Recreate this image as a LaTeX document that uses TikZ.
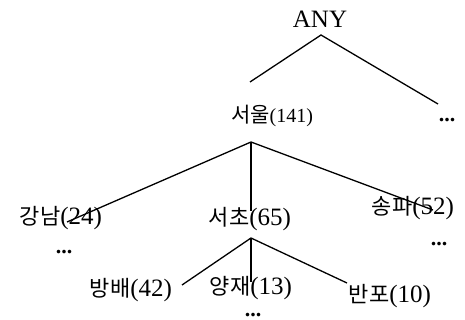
\documentclass[tikz,border=0pt]{standalone}
\usepackage{fontspec}
\setmainfont{Liberation Serif}
\newfontfamily\kr{Noto Sans CJK KR}
\begin{document}
\begin{tikzpicture}[x=1pt,y=-1pt,
  lbl/.style={inner sep=0pt,font=\fontsize{25}{27}\selectfont},
  dots/.style={inner sep=0pt,text height=4pt,text depth=0pt,font=\bfseries\fontsize{22}{24}\selectfont},
  edge/.style={draw=black,line width=1.3pt}]
\useasboundingbox (0,0) rectangle (465,320);
\node[lbl] (any) at (320,19) {ANY};
\node[lbl] (seoul) at (272,116) {{\kr\fontsize{21}{22}\selectfont 서울}{\fontsize{20}{22}\selectfont (141)}};
\node[dots] (dotsA) at (447,120) {...};
\node[lbl] (gangnam) at (61,218) {{\kr\fontsize{22}{24}\selectfont 강남}(24)};
\node[lbl] (seocho) at (250,219) {{\kr\fontsize{22}{24}\selectfont 서초}(65)};
\node[lbl] (songpa) at (413,208) {{\kr\fontsize{22}{24}\selectfont 송파}(52)};
\node[dots] (dotsB) at (64,251) {...};
\node[dots] (dotsC) at (439,243) {...};
\node[lbl] (bangbae) at (131,290) {{\kr\fontsize{22}{24}\selectfont 방배}(42)};
\node[lbl] (yangjae) at (251,288) {{\kr\fontsize{22}{24}\selectfont 양재}(13)};
\node[lbl] (banpo) at (390,296) {{\kr\fontsize{22}{24}\selectfont 반포}(10)};
\node[dots] (dotsD) at (253,314.5) {...};
\coordinate (anyB) at (321,35);
\coordinate (seoulT) at (250,82);
\coordinate (dotsAT) at (438,104);
\coordinate (seoulB) at (251,142);
\coordinate (gangnamT) at (67,222);
\coordinate (seochoT) at (251,211);
\coordinate (songpaT) at (433,210);
\coordinate (seochoB) at (251,238);
\coordinate (bangbaeT) at (182,285);
\coordinate (yangjaeT) at (251,282);
\coordinate (banpoT) at (347,283);
\draw[edge] (seoulT) -- (anyB) -- (dotsAT);
\draw[edge] (gangnamT) -- (seoulB) -- (songpaT);
\draw[edge] (seoulB) -- (seochoT);
\draw[edge] (bangbaeT) -- (seochoB) -- (banpoT);
\draw[edge] (seochoB) -- (yangjaeT);
\end{tikzpicture}
\end{document}
